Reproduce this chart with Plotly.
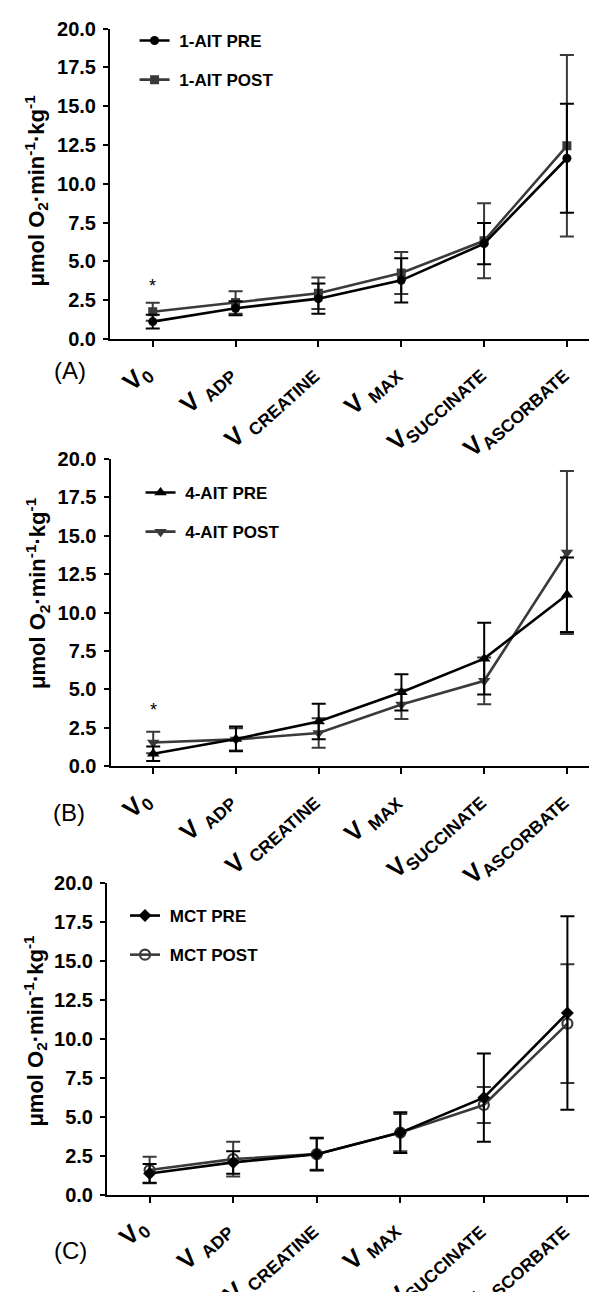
import plotly.graph_objects as go

categories = ["V<sub>0</sub>", "V <sub>ADP</sub>", "V <sub>CREATINE</sub>", "V <sub>MAX</sub>",
              "V<sub>SUCCINATE</sub>", "V<sub>ASCORBATE</sub>"]

a_pre = [1.12, 1.98, 2.60, 3.78, 6.15, 11.65]
a_pre_err = [0.45, 0.45, 0.97, 1.42, 1.33, 3.52]
a_post = [1.76, 2.35, 2.95, 4.25, 6.33, 12.45]
a_post_err = [0.58, 0.72, 1.02, 1.35, 2.42, 5.85]

b_pre = [0.82, 1.78, 2.91, 4.81, 7.00, 11.16]
b_pre_err = [0.47, 0.80, 1.15, 1.18, 2.33, 2.42]
b_post = [1.55, 1.75, 2.16, 4.02, 5.56, 13.90]
b_post_err = [0.70, 0.72, 0.96, 0.95, 1.52, 5.30]

c_pre = [1.36, 2.07, 2.60, 3.98, 6.22, 11.65]
c_pre_err = [0.60, 0.72, 1.05, 1.30, 2.83, 6.20]
c_post = [1.58, 2.28, 2.60, 3.98, 5.75, 10.97]
c_post_err = [0.85, 1.12, 1.00, 1.20, 1.16, 3.81]

names = [("1-AIT PRE", "1-AIT POST"), ("4-AIT PRE", "4-AIT POST"), ("MCT PRE", "MCT POST")]
panel_labels = ["(A)", "(B)", "(C)"]
y_ticks = [0, 2.5, 5, 7.5, 10, 12.5, 15, 17.5, 20]

W, H = 597, 1292
FONT = "Arial, Liberation Sans, sans-serif"
PRE_C = "#000000"
POST_C = "#3a3a3a"

def px(x):
    return x / W

def py(y):
    return 1 - y / H

panels = [
    dict(x0=102, y20=20.7, y0=331.0, xr=[-0.516, 5.46], leg=(0.212, py(15)), lab=(62, 362), tit=(28.5, 183)),
    dict(x0=102.5, y20=450.7, y0=758.3, xr=[-0.516, 5.46], leg=(0.222, py(467)), lab=(61, 804), tit=(29, 585)),
    dict(x0=99, y20=874.7, y0=1186.7, xr=[-0.51, 5.45], leg=(0.196, py(890)), lab=(62, 1242), tit=(26.6, 1023)),
]

series = [
    (a_pre, a_pre_err, a_post, a_post_err, ("circle", "square")),
    (b_pre, b_pre_err, b_post, b_post_err, ("triangle-up", "triangle-down")),
    (c_pre, c_pre_err, c_post, c_post_err, ("diamond", "circle-open")),
]

fig = go.Figure()
layout = {}
annotations = []

for i, (p, s, nm) in enumerate(zip(panels, series, names)):
    k = "" if i == 0 else str(i + 1)
    xa, ya = "x" + k, "y" + k
    leg = "legend" + k
    pre, pre_err, post, post_err, syms = s
    for vals, errs, col, sym, name, order in [
        (post, post_err, POST_C, syms[1], nm[1], 2),
        (pre, pre_err, PRE_C, syms[0], nm[0], 1),
    ]:
        msize = 11 if "triangle" in sym else (10 if sym in ("circle-open", "diamond") else 9)
        fig.add_trace(go.Scatter(
            x=categories, y=vals, xaxis=xa, yaxis=ya, name="\u00a0" + name,
            mode="lines+markers", legend=leg, legendgroup=name, legendrank=order,
            line=dict(color=col, width=2.6),
            marker=dict(symbol=sym, size=msize, color=col,
                        line=dict(color=col, width=2.2 if sym == "circle-open" else 0)),
            error_y=dict(type="data", array=errs, visible=True, color=col,
                         thickness=2, width=7),
        ))
    layout["xaxis" + k] = dict(
        domain=[px(p["x0"]), 1], anchor=ya, type="category", range=p["xr"],
        showline=True, linecolor="black", linewidth=2,
        ticks="outside", ticklen=6, tickwidth=2, tickcolor="black",
        showticklabels=False, showgrid=False, zeroline=False, automargin=False,
    )
    layout["yaxis" + k] = dict(
        domain=[py(p["y0"]), py(p["y20"])], anchor=xa, range=[0, 20],
        tickvals=y_ticks, tickformat=".1f", ticklabelstandoff=3,
        showline=True, linecolor="black", linewidth=2,
        ticks="outside", ticklen=5, tickwidth=2, tickcolor="black",
        showgrid=False, zeroline=False, automargin=False,
        tickfont=dict(family=FONT, size=20, color="black", weight="bold"),
    )
    layout[leg] = dict(
        x=p["leg"][0], y=p["leg"][1], xanchor="left", yanchor="top",
        bgcolor="rgba(0,0,0,0)", borderwidth=0, tracegroupgap=14,
        traceorder="grouped",
        font=dict(family=FONT, size=17, color="black", weight="bold"),
    )
    # rotated category labels
    for c in categories:
        annotations.append(dict(
            text=c, x=c, y=0, xref=xa, yref=ya, showarrow=False,
            textangle=-42, xanchor="right", yanchor="top", xshift=8, yshift=-15,
            font=dict(family=FONT, size=25, color="black", weight="bold"),
        ))
    annotations.append(dict(
        text=panel_labels[i], x=px(p["lab"][0]), y=py(p["lab"][1]),
        xref="paper", yref="paper", showarrow=False, xanchor="center", yanchor="middle",
        font=dict(family=FONT, size=24, color="black"),
    ))
    annotations.append(dict(
        text="μmol O<sub>2</sub>·min<sup>-1</sup>·kg<sup>-1</sup>",
        x=px(p["tit"][0]), y=py(p["tit"][1]), xref="paper", yref="paper",
        showarrow=False, textangle=-90, xanchor="center", yanchor="middle",
        font=dict(family=FONT, size=22, color="black", weight="bold"),
    ))

# significance markers on V0 for panels A and B
for k, yv in [("", 3.4), ("2", 3.65)]:
    annotations.append(dict(
        text="*", x=categories[0], y=yv, xref="x" + k, yref="y" + k,
        showarrow=False, xanchor="center", yanchor="middle",
        font=dict(family=FONT, size=18, color="black"),
    ))

fig.update_layout(
    width=W, height=H, autosize=False,
    margin=dict(l=0, r=0, t=0, b=0),
    paper_bgcolor="white", plot_bgcolor="white",
    showlegend=True, annotations=annotations, **layout,
)

fig.write_html("out.html")
